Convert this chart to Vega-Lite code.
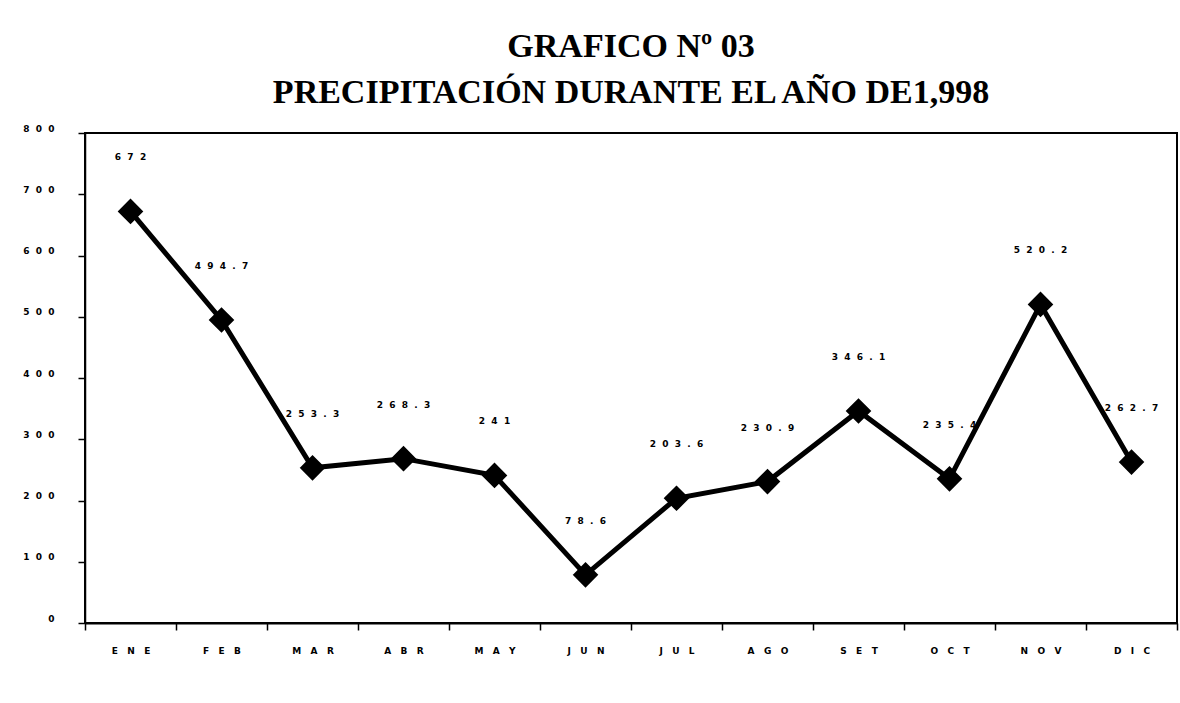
{
  "$schema": "https://vega.github.io/schema/vega-lite/v6.json",
  "autosize": "none",
  "width": 1092,
  "height": 490,
  "padding": {"left": 85, "top": 133, "right": 3, "bottom": 80},
  "background": "white",
  "title": {
    "text": ["GRAFICO Nº 03", "PRECIPITACIÓN DURANTE EL AÑO DE1,998"],
    "font": "Liberation Serif",
    "fontSize": 34,
    "fontWeight": "bold",
    "lineHeight": 46,
    "color": "black",
    "anchor": "middle",
    "frame": "group",
    "offset": 14
  },
  "config": {
    "view": {"stroke": "black", "strokeWidth": 2},
    "axis": {"grid": false, "domainColor": "black", "tickColor": "black", "labelColor": "black", "labelFont": "DejaVu Sans", "labelFontSize": 9, "labelFontWeight": "bold"}
  },
  "data": {
    "values": [
      {"mes": "ENE", "valor": 672},
      {"mes": "FEB", "valor": 494.7},
      {"mes": "MAR", "valor": 253.3},
      {"mes": "ABR", "valor": 268.3},
      {"mes": "MAY", "valor": 241},
      {"mes": "JUN", "valor": 78.6},
      {"mes": "JUL", "valor": 203.6},
      {"mes": "AGO", "valor": 230.9},
      {"mes": "SET", "valor": 346.1},
      {"mes": "OCT", "valor": 235.4},
      {"mes": "NOV", "valor": 520.2},
      {"mes": "DIC", "valor": 262.7}
    ]
  },
  "encoding": {
    "x": {
      "field": "mes", "type": "nominal", "sort": null,
      "scale": {"paddingInner": 0, "paddingOuter": 0},
      "axis": {"title": null, "labelAngle": 0, "tickBand": "extent", "tickSize": 7, "labelPadding": 16, "domainWidth": 2, "tickWidth": 1.5,
        "labelExpr": "join(split(datum.label, ''), '\u00a0\u00a0\u00a0')"}
    },
    "y": {
      "field": "valor", "type": "quantitative",
      "scale": {"domain": [0, 800], "nice": false},
      "axis": {"title": null, "values": [0, 100, 200, 300, 400, 500, 600, 700, 800], "tickSize": 7, "labelPadding": 24, "labelBaseline": "bottom", "domainWidth": 1.5, "tickWidth": 1.5,
        "labelExpr": "join(split(datum.label, ''), '\u00a0\u00a0')"}
    }
  },
  "layer": [
    {"mark": {"type": "line", "color": "black", "strokeWidth": 5}},
    {"mark": {"type": "point", "shape": "diamond", "filled": true, "fill": "black", "stroke": "black", "strokeWidth": 2, "size": 520, "opacity": 1, "fillOpacity": 1}},
    {"mark": {"type": "text", "dy": -54, "fontSize": 9, "fontWeight": "bold", "font": "DejaVu Sans", "color": "black",
      "text": {"expr": "join(split(format(datum.valor, ''), ''), '\u00a0\u00a0')"}}}
  ]
}
